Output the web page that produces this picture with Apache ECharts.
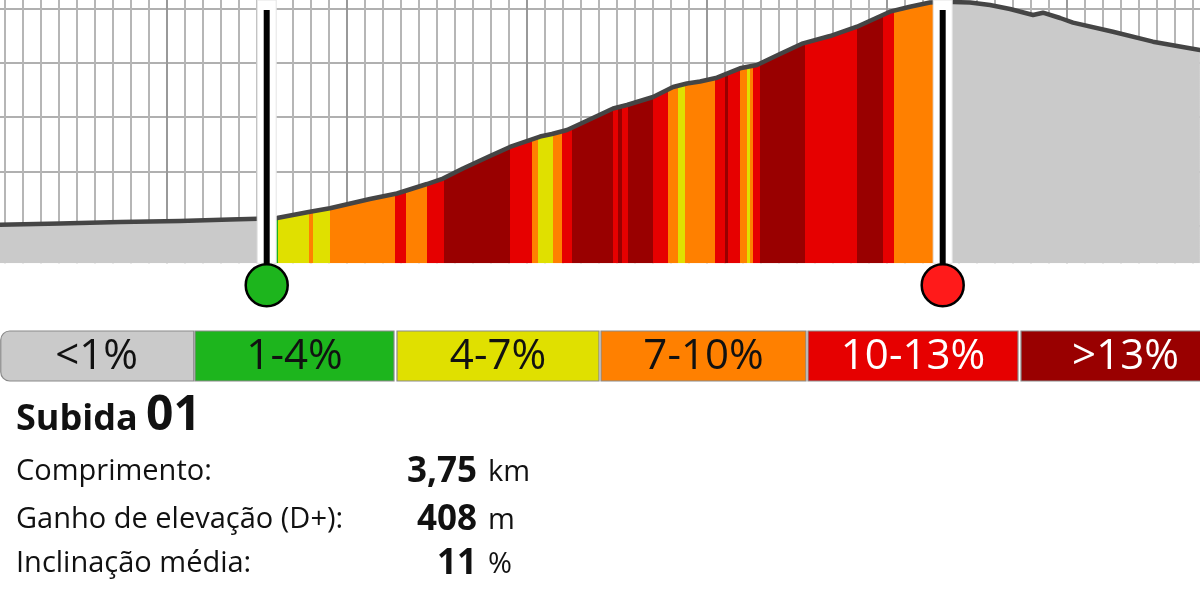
<!DOCTYPE html>
<html><head><meta charset="utf-8">
<script src="https://cdn.jsdelivr.net/npm/echarts@6/dist/echarts.min.js"></script>
<style>html,body{margin:0;padding:0;background:#fff}#c{width:1200px;height:600px}</style>
</head><body><div id="c"></div>
<script>
// ---------------- DATA ----------------
// elevation profile: distance along route (km) and elevation (m)
const distKm = [0.000, 0.407, 0.741, 1.074, 1.352, 1.557, 1.613, 1.796, 1.907, 2.129,
  2.279, 2.446, 2.535, 2.646, 2.796, 2.907, 3.074, 3.140, 3.224, 3.296,
  3.480, 3.557, 3.702, 3.813, 3.890, 3.963, 4.057, 4.185, 4.279, 4.407,
  4.535, 4.685, 4.835, 5.018, 5.129, 5.240, 5.324, 5.463, 5.574, 5.685,
  5.813, 5.868, 5.963, 6.035, 6.257, 6.479, 6.740];
const elevM = [602.2, 604.9, 607.7, 609.5, 612.3, 614.1, 615.0, 626.6, 632.8, 649.9,
  660.0, 677.4, 687.5, 705.9, 728.8, 745.4, 764.6, 769.2, 776.6, 787.6,
  816.0, 822.5, 837.2, 855.5, 861.9, 865.6, 872.6, 889.8, 895.9, 916.1,
  935.7, 949.1, 966.2, 993.8, 1002.9, 1010.6, 1011.9, 1010.6, 1006.1, 998.7,
  987.7, 991.9, 982.2, 973.6, 957.0, 938.7, 923.4];
// gradient segments inside the climb: boundaries (km) and gradient class index
const segBounds = [1.5556, 1.6183, 1.7906, 1.8128, 1.9072, 2.2683, 2.3294, 2.4461, 2.5406, 2.9072,
  3.0294, 3.0628, 3.1461, 3.1961, 3.2517, 3.4794, 3.5072, 3.5294, 3.5628, 3.7017,
  3.7850, 3.8406, 3.8794, 4.0461, 4.1017, 4.1183, 4.1850, 4.2239, 4.2406, 4.2572,
  4.2961, 4.5461, 4.8350, 4.9794, 5.0406, 5.3111];
const segClass = [1, 2, 3, 2, 3, 4, 3, 4, 5, 4,
  3, 2, 3, 4, 5, 4, 5, 4, 5, 4,
  3, 2, 3, 4, 5, 4, 3, 2, 3, 4,
  5, 4, 5, 4, 3];
const classLabels = ['<1%', '1-4%', '4-7%', '7-10%', '10-13%', '>13%'];
const climbMarkersKm = [1.5556, 5.3111];
const climbTitle = 'Subida';
const climbNumber = '01';
const statLabels = ['Comprimento:', 'Ganho de elevação (D+):', 'Inclinação média:'];
const statValues = ['3,75', '408', '11'];
const statUnits = ['km', 'm', '%'];
const xMajorKm = 1, xMinorSplit = 10, yStepM = 100;

// ---------------- STYLE / LAYOUT ----------------
const CLASS_COLORS = ['#cacaca', '#1db51d', '#e0e000', '#ff8000', '#e60000', '#990000'];
const LABEL_COLORS = ['#111', '#111', '#111', '#111', '#fff', '#fff'];
const MARKER_COLORS = ['#1db51d', '#ff1a1a'];
const FONT = '"Open Sans", "Noto Sans", sans-serif';
const W = 1200;
const PX_PER_KM = 180, PX_PER_M = 0.5447, X0 = -13.3, Y1000 = 8.3;
const X_MAX = (W - X0) / PX_PER_KM;
const Y_TOP = 1100, LINES_MIN = 500, BASE_M = 532;
const gridTop = Y1000 - (Y_TOP - 1000) * PX_PER_M;
const linesBottomPx = Y1000 + (1000 - LINES_MIN) * PX_PER_M;
const profileBottomPx = Y1000 + (1000 - BASE_M) * PX_PER_M;

const profile = distKm.map((d, i) => [d, elevM[i]]);
const pieces = segClass.map((c, i) => ({ gte: segBounds[i], lt: segBounds[i + 1], color: CLASS_COLORS[c] }));

const hidden = { show: false };
const chart = echarts.init(document.getElementById('c'), null, { renderer: 'canvas' });

// legend boxes (layout)
const legendTop = 331, legendH = 50;
const legendEdges = [[0, 193], [195, 394], [397, 599], [601, 806], [808, 1018], [1021, 1230]];
const graphics = [];
legendEdges.forEach((e, i) => {
  graphics.push({
    type: 'rect', z: 10,
    shape: { x: e[0] + (i === 0 ? 0.75 : 0), y: legendTop, width: e[1] - e[0], height: legendH, r: i === 0 ? [9, 0, 0, 9] : 0 },
    style: { fill: CLASS_COLORS[i], stroke: '#8a8a8a', lineWidth: 1.2 }
  });
  graphics.push({
    type: 'text', z: 11, x: (e[0] + e[1]) / 2, y: legendTop + legendH / 2 + 1,
    style: { text: classLabels[i], font: '42px ' + FONT, fill: LABEL_COLORS[i], textAlign: 'center', textVerticalAlign: 'middle' }
  });
});
// title
graphics.push({ type: 'text', z: 11, x: 16, y: 420, style: { text: climbTitle, font: 'bold 36px ' + FONT, fill: '#111', textAlign: 'left', textVerticalAlign: 'middle' } });
graphics.push({ type: 'text', z: 11, x: 146, y: 416, style: { text: climbNumber, font: 'bold 48px ' + FONT, fill: '#111', textAlign: 'left', textVerticalAlign: 'middle' } });
const rowY = [472, 520, 564];
statLabels.forEach((t, i) => {
  graphics.push({ type: 'text', z: 11, x: 16, y: rowY[i], style: { text: t, font: '29px ' + FONT, fill: '#111', textAlign: 'left', textVerticalAlign: 'middle' } });
  graphics.push({ type: 'text', z: 11, x: 477, y: rowY[i], style: { text: statValues[i], font: 'bold 35px ' + FONT, fill: '#111', textAlign: 'right', textVerticalAlign: 'middle' } });
  graphics.push({ type: 'text', z: 11, x: 488, y: rowY[i] + 1, style: { text: statUnits[i], font: '29px ' + FONT, fill: '#111', textAlign: 'left', textVerticalAlign: 'middle' } });
});

const option = {
  animation: false,
  backgroundColor: '#fff',
  grid: [
    { left: X0, right: 0, top: gridTop, height: linesBottomPx - gridTop, outerBoundsMode: 'none', containLabel: false },
    { left: X0, right: 0, top: gridTop, height: profileBottomPx - gridTop, outerBoundsMode: 'none', containLabel: false }
  ],
  xAxis: [
    { gridIndex: 0, type: 'value', min: 0, max: X_MAX, axisLine: hidden, axisTick: hidden, axisLabel: hidden, splitLine: hidden },
    { gridIndex: 1, type: 'value', min: 0, max: X_MAX, interval: xMajorKm,
      axisLine: hidden, axisTick: hidden, axisLabel: hidden,
      splitLine: { show: true, showMinLine: false, showMaxLine: false, lineStyle: { color: '#999', width: 2 } },
      minorTick: { show: false, splitNumber: xMinorSplit },
      minorSplitLine: { show: true, lineStyle: { color: '#b6b6b6', width: 2 } } }
  ],
  yAxis: [
    { gridIndex: 0, type: 'value', min: LINES_MIN, max: Y_TOP, interval: yStepM,
      axisLine: hidden, axisTick: hidden, axisLabel: hidden,
      splitLine: { show: true, showMinLine: false, lineStyle: { color: '#b0b0b0', width: 2 } } },
    { gridIndex: 1, type: 'value', min: BASE_M, max: Y_TOP, axisLine: hidden, axisTick: hidden, axisLabel: hidden, splitLine: hidden }
  ],
  visualMap: {
    type: 'piecewise', show: false, dimension: 0, seriesIndex: 0,
    pieces: pieces, outOfRange: { color: CLASS_COLORS[0] }
  },
  series: [
    { type: 'line', xAxisIndex: 1, yAxisIndex: 1, data: profile, symbol: 'none', silent: true,
      lineStyle: { width: 0, opacity: 0 }, areaStyle: { opacity: 1 }, z: 2 },
    { type: 'line', xAxisIndex: 1, yAxisIndex: 1, data: profile, symbol: 'none', silent: true,
      lineStyle: { width: 4.5, color: '#454545', cap: 'round', join: 'round' }, z: 3 },
    { type: 'custom', xAxisIndex: 1, yAxisIndex: 1, z: 5, silent: true,
      data: climbMarkersKm.map(v => [v]),
      renderItem: function (params, api) {
        const p = api.coord([api.value(0), BASE_M]);
        const x = p[0], bottom = p[1];
        const cy = bottom + 22;
        return { type: 'group', children: [
          { type: 'rect', shape: { x: x - 9.5, y: 0, width: 19, height: bottom }, style: { fill: '#fff', stroke: '#e4e4e4', lineWidth: 1 } },
          { type: 'rect', shape: { x: x - 3, y: 10, width: 6, height: cy - 10 }, style: { fill: '#000' } },
          { type: 'circle', shape: { cx: x, cy: cy, r: 21 }, style: { fill: MARKER_COLORS[params.dataIndex], stroke: '#000', lineWidth: 2.5 } }
        ] };
      } }
  ],
  graphic: graphics
};
chart.setOption(option);
</script></body></html>
